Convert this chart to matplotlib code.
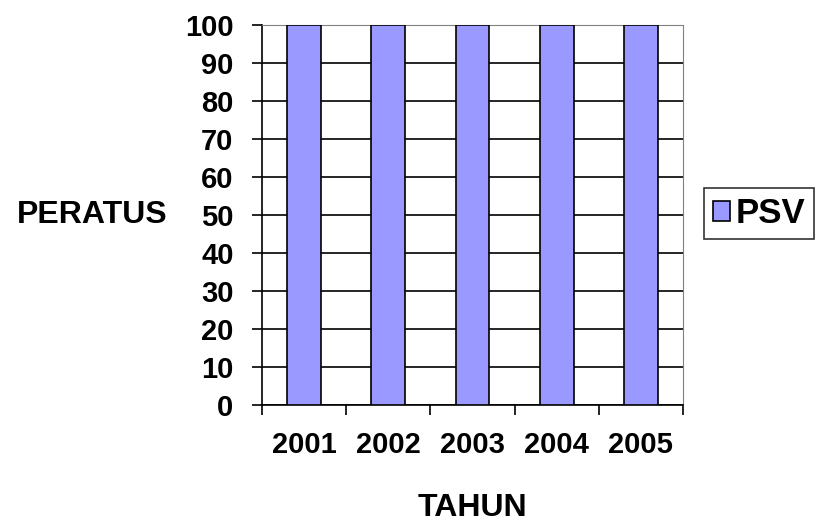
import matplotlib.pyplot as plt
import numpy as np

plt.rcParams["font.family"] = ["Liberation Sans", "DejaVu Sans"]

years = ["2001", "2002", "2003", "2004", "2005"]
psv = [100, 100, 100, 100, 100]
y_ticks = [0, 10, 20, 30, 40, 50, 60, 70, 80, 90, 100]

FS = 21      # tick labels
FS_T = 23    # axis titles
FS_L = 25    # legend

fig = plt.figure(figsize=(8.16, 5.22), dpi=100)
ax = fig.add_axes([262 / 816, 1 - 405 / 522, 421 / 816, 380 / 522])

x = np.arange(len(years))
ax.set_axisbelow(True)
ax.bar(x, psv, width=0.4, color="#9999FF", edgecolor="black", linewidth=1.2, label="PSV", zorder=3)

ax.set_xlim(-0.5, len(years) - 0.5)
ax.set_ylim(0, 100)
ax.set_yticks(y_ticks)
ax.yaxis.grid(True, color="black", linewidth=1.2)

# ticks between categories, labels at centres
ax.set_xticks(x)
ax.set_xticklabels(years, fontsize=FS, fontweight="bold")
ax.set_xticks(np.arange(-0.5, len(years)), minor=True)
ax.tick_params(axis="x", which="major", length=0, pad=19)
ax.tick_params(axis="x", which="minor", length=7.5, width=1.2, direction="out")
ax.tick_params(axis="y", length=7.5, width=1.2, pad=13, labelsize=FS)
for t in ax.get_yticklabels():
    t.set_fontweight("bold")

ax.spines["left"].set_linewidth(1.2)
ax.spines["bottom"].set_linewidth(1.2)
ax.spines["top"].set_color("gray")
ax.spines["right"].set_color("gray")

ax.set_ylabel("PERATUS", rotation=0, fontsize=FS_T, fontweight="bold", va="center", ha="right")
ax.yaxis.set_label_coords((168 - 262) / 421, 0.5)
ax.set_xlabel("TAHUN", fontsize=FS_T, fontweight="bold", va="center", ha="center")
ax.xaxis.set_label_coords((472 - 262) / 421, (405 - 508) / 380)

leg = fig.legend(loc="center left", bbox_to_anchor=(704 / 816, 1 - 213.5 / 522),
                 prop={"size": FS_L, "weight": "bold"}, frameon=True, fancybox=False,
                 edgecolor="black", handlelength=0.5, handleheight=0.5,
                 handletextpad=0.15, borderpad=0.25, borderaxespad=0)
leg.get_frame().set_linewidth(1.2)

fig.savefig("out.png", dpi=100)
